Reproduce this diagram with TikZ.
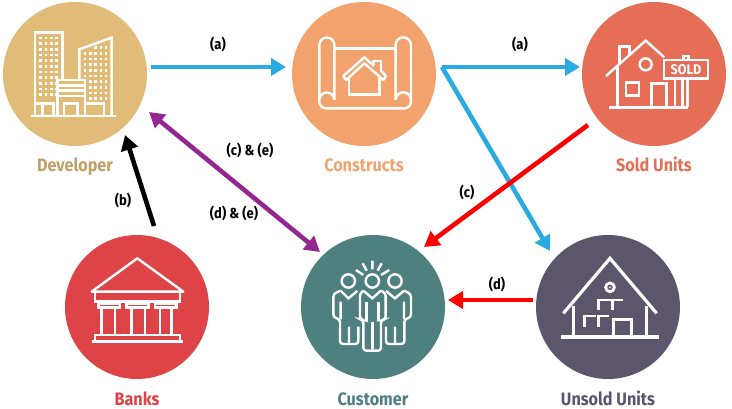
\documentclass[tikz,border=0pt]{standalone}
\usepackage{fontspec}
\setmainfont{Fira Sans}[FakeStretch=0.9]
\usetikzlibrary{arrows.meta}
\definecolor{cDev}{HTML}{E0BC78}\definecolor{tDev}{HTML}{BFA065}
\definecolor{cCon}{HTML}{F2A26C}
\definecolor{cSold}{HTML}{E66E56}
\definecolor{cBank}{HTML}{DE4447}
\definecolor{cCust}{HTML}{4E8080}
\definecolor{cUns}{HTML}{5B566C}
\definecolor{aBlue}{HTML}{29ABE2}
\definecolor{aPurple}{HTML}{93278F}
\tikzset{
 hub/.style={circle,fill=#1,minimum size=144pt,inner sep=0pt,outer sep=0pt},
 hubname/.style={font=\fontsize{18}{18}\selectfont\bfseries,text=#1,inner sep=0pt,anchor=base},
 flowtag/.style={font=\fontsize{14.5}{15}\selectfont\bfseries,text=black,inner sep=0pt,anchor=center},
 icon/.style={draw=white,line width=2.4pt,line join=miter,fill=none},
 pipe/.style={line width=4.6pt,-{Triangle[length=15pt,width=17pt]}},
 pipeboth/.style={line width=4.6pt,{Triangle[length=15pt,width=17pt]}-{Triangle[length=15pt,width=17pt]}},
 winbox/.style={fill=white,draw=none}
}
\begin{document}
\begin{tikzpicture}[x=1pt,y=-1pt]
\useasboundingbox (0,0) rectangle (732,409);
\node[hub=cDev] (dev) at (75,74) {};
\node[hub=cCon] (con) at (364,74) {};
\node[hub=cSold] (sold) at (654,74) {};
\node[hub=cBank] (bank) at (137,307) {};
\node[hub=cCust] (cust) at (373,307) {};
\node[hub=cUns] (uns) at (608,307) {};
\node[hubname=tDev] (ldev) at (75,172) {Developer};
\node[hubname=cCon] (lcon) at (364,172) {Constructs};
\node[hubname=cSold] (lsold) at (654,172) {Sold Units};
\node[hubname=cBank] (lbank) at (137,405) {Banks};
\node[hubname=cCust] (lcust) at (373,405) {Customer};
\node[hubname=cUns] (luns) at (608,405) {Unsold Units};
\node[flowtag] (t1) at (218,44) {(a)};
\node[flowtag] (t2) at (520,44) {(a)};
\node[flowtag] (t3) at (250,150) {(c) \& (e)};
\node[flowtag] (t4) at (234,213) {(d) \& (e)};
\node[flowtag] (t5) at (123,200) {(b)};
\node[flowtag] (t6) at (467,192) {(c)};
\node[flowtag] (t7) at (497,284) {(d)};
% connectors
\coordinate (fork) at ([shift={(6,-7)}]con.east);
\draw[pipe,aBlue] ([shift={(4,-7)}]dev.east) -- ([shift={(-6,-7)}]con.west);
\draw[pipe,aBlue] (fork) -- ([shift={(-2,-7)}]sold.west);
\draw[pipe,aBlue] (fork) -- ([shift={(-58,16)}]uns.north);
\draw[pipe,red] ([shift={(-66,-21)}]sold.south) -- ([shift={(51,12)}]cust.north);
\draw[pipe,red] ([shift={(-3,-7)}]uns.west) -- ([shift={(3,-7)}]cust.east);
\draw[pipe,black] ([shift={(17,-9)}]bank.north) -- ([shift={(50,-11)}]dev.south);
\draw[pipeboth,aPurple] ([shift={(74,-34)}]dev.south) -- ([shift={(-53,17)}]cust.north);
% Developer icon
\begin{scope}[scale=1/3]
\draw[icon] (105,345)--(105,97)--(187,97)--(187,240);
\draw[icon] (238,240)--(238,148)--(335,113)--(335,345);
\draw[icon] (172,345)--(172,240)--(255,240)--(255,345);
\draw[icon] (172,257)--(255,257) (172,272)--(255,272) (172,288)--(255,288);
\draw[icon] (93,348)--(348,348);
\draw[icon] (192,345)--(192,310)--(232,310)--(232,345);
\draw[icon] (105,310)--(160,310)--(160,345) (127,310)--(127,345);
\draw[icon] (255,310)--(312,310)--(312,345);
\foreach \c in {122,138,154,170}\foreach \r in {114,131,148,165,182,199,216,233,250,267,284}
  \fill[winbox] (\c-4,\r-4) rectangle (\c+4,\r+4);
\foreach \c in {255,271,287,303,318}\foreach \r in {160,177,194,211,228}
  \fill[winbox] (\c-4,\r-4) rectangle (\c+4,\r+4);
\foreach \c in {271,287,303,318}\foreach \r in {245,262,279,296}
  \fill[winbox] (\c-4,\r-4) rectangle (\c+4,\r+4);
\foreach \c in {287,303,318}\fill[winbox] (\c-4,139) rectangle (\c+4,147);
\end{scope}
% Constructs icon
\begin{scope}[shift={(285,0)},scale=1/3]
\draw[icon] (103,300)--(103,135) arc[start angle=180,end angle=360,radius=22.5] -- (148,300);
\draw[icon] (148,145)--(332,145);
\draw[icon] (378,300)--(378,135) arc[start angle=0,end angle=-180,radius=23] -- (332,300);
\draw[icon] (148,300) arc[start angle=0,end angle=-180,radius=22.5] -- (103,305) arc[start angle=180,end angle=90,radius=20] -- (358,325) arc[start angle=90,end angle=0,radius=20] -- (378,300) arc[start angle=0,end angle=-180,radius=23];
\draw[icon,line join=round] (175,228)--(238,172)--(265,196)--(265,183)--(288,183)--(288,212)--(303,228)--(295,240)--(238,190)--(183,240)--cycle;
\draw[icon] (192,235)--(192,283)--(283,283)--(283,235);
\end{scope}
% Sold icon
\begin{scope}[shift={(575,0)},scale=1/3]
\draw[icon] (93,228)--(212,122)--(268,172);
\draw[icon] (133,190)--(133,140)--(163,140)--(163,162);
\draw[icon] (128,195)--(128,322);
\draw[icon] (103,322)--(340,322);
\draw[icon] (212,193) circle[radius=18];
\draw[icon] (153,248) rectangle (192,287);
\draw[icon] (230,322)--(230,250)--(275,250)--(275,322);
\draw[icon] (300,235)--(300,322);
\draw[icon] (322,235)--(322,322) (338,235)--(338,322);
\draw[icon] (325,180)--(325,168)--(340,168)--(340,180);
\node[icon,draw=white,minimum width=43.5pt,minimum height=18.5pt,inner sep=0pt,font=\fontsize{14}{14}\selectfont\bfseries,text=white] (soldtext) at (333,207.5) {SOLD};
\end{scope}
% Banks icon
\begin{scope}[shift={(60,230)},scale=1/3]
\draw[icon,line join=round] (95,185)--(232,85)--(370,185)--cycle;
\draw[icon] (105,185)--(105,215)--(360,215)--(360,185);
\draw[icon] (115,220) rectangle (180,233);
\draw[icon] (200,220) rectangle (265,233);
\draw[icon] (285,220) rectangle (350,233);
\foreach \x in {125,165,215,255,300,335} \draw[icon] (\x,233)--(\x,312);
\draw[icon] (105,335)--(105,315)--(360,315)--(360,335);
\draw[icon] (95,335)--(370,335);
\end{scope}
% Customer icon
\begin{scope}[shift={(295,230)},scale=1/3]
\draw[icon] (160,153) circle[radius=20] (232,153) circle[radius=20] (300,153) circle[radius=20];
\draw[icon] (183,120)--(205,135) (203,100)--(215,122) (232,92)--(232,118) (260,100)--(248,122) (283,120)--(258,135);
\draw[icon,rounded corners=3pt] (205,182)--(195,190)--(195,268)--(205,270)--(205,362)--(258,362)--(258,270)--(272,268)--(272,190)--(258,182);
\draw[icon] (205,182)--(232,205)--(258,182);
\draw[icon] (215,215)--(215,272) (250,215)--(250,272) (232,275)--(232,358);
\draw[icon,rounded corners=3pt] (137,182)--(115,192)--(115,262)--(135,268)--(135,342)--(190,342)--(190,290);
\draw[icon] (137,182)--(160,205)--(187,183) (137,215)--(137,268) (162,290)--(162,340);
\draw[icon,rounded corners=3pt] (327,182)--(348,192)--(348,262)--(328,268)--(328,342)--(273,342)--(273,290);
\draw[icon] (327,182)--(300,205)--(273,183) (327,215)--(327,268) (300,290)--(300,340);
\end{scope}
% Unsold icon
\begin{scope}[shift={(530,230)},scale=1/3]
\draw[icon,line width=3.2pt] (100,250)--(240,85)--(380,250);
\draw[icon,line width=2.8pt] (130,228)--(130,320) (350,228)--(350,320);
\draw[icon,line width=4.2pt] (92,322)--(388,322);
\draw[icon,line width=2.8pt] (240,172) circle[radius=13];
\fill[white] (240,172) circle[radius=3];
\draw[icon,line width=2.8pt] (205,240)--(205,210)--(243,210) (248,240)--(248,210)--(280,210);
\draw[icon,line width=2.8pt] (163,290)--(163,258)--(198,258) (205,290)--(205,258)--(238,258);
\draw[icon,line width=2.8pt] (250,320)--(250,268)--(305,268)--(305,320);
\end{scope}
\end{tikzpicture}
\end{document}
